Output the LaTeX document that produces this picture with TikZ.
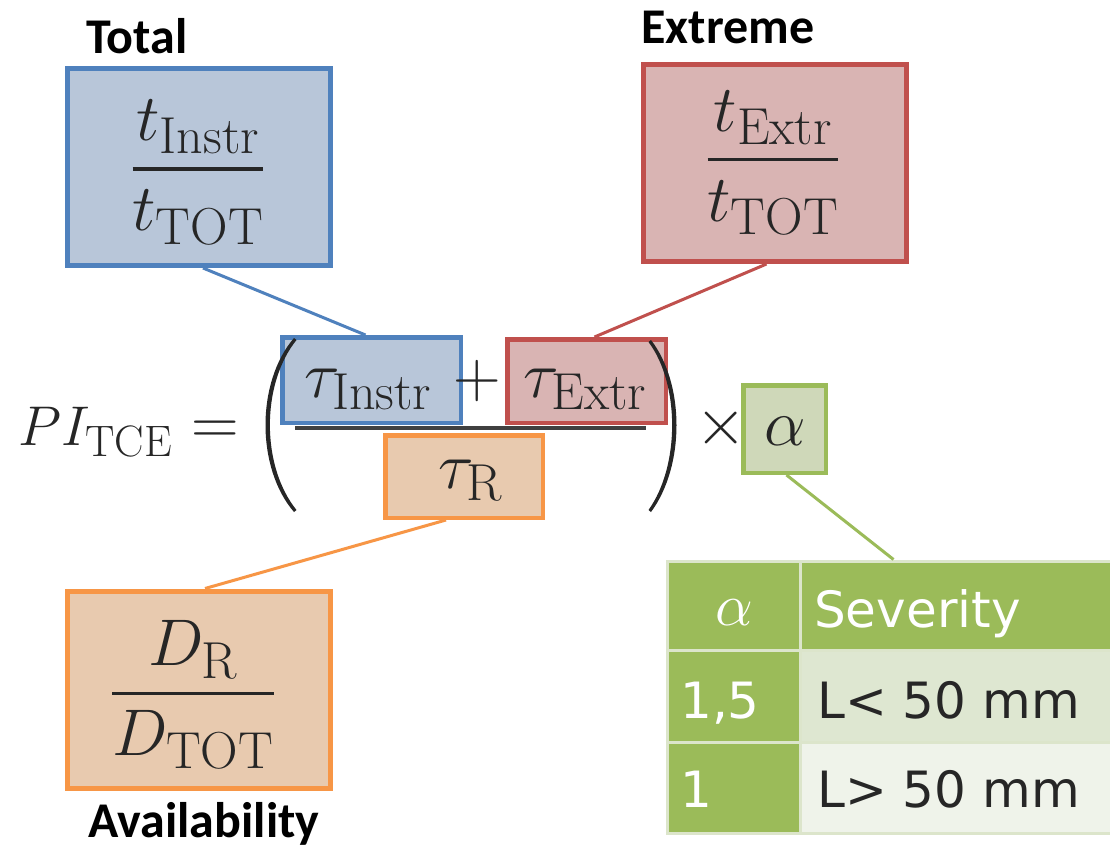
\documentclass[tikz,border=0pt]{standalone}
\usepackage{fix-cm}
\usepackage{fontspec}
\newfontfamily\labelfont{Carlito}
\newfontfamily\tabfont{DejaVu Sans}
\DeclareMathSizes{66}{66}{52}{40}
\DeclareMathSizes{56}{56}{44}{34}
\usetikzlibrary{calc}
\definecolor{blueL}{HTML}{4F81BD}
\definecolor{blueF}{HTML}{B8C6D9}
\definecolor{redL}{HTML}{C0504D}
\definecolor{redF}{HTML}{D9B4B3}
\definecolor{orL}{HTML}{F79646}
\definecolor{orF}{HTML}{E8CAAF}
\definecolor{grL}{HTML}{9BBB59}
\definecolor{grF}{HTML}{CFD8B9}
\definecolor{tabA}{HTML}{DEE7D1}
\definecolor{tabB}{HTML}{EFF3EA}
\definecolor{tabSep}{HTML}{DCE5CB}
\definecolor{txtc}{HTML}{262626}
\definecolor{barc}{HTML}{404040}
\tikzset{
  bigbox/.style={draw, line width=5pt, minimum width=263pt, minimum height=197pt, inner sep=0pt},
  smbox/.style={draw, line width=4.5pt, inner sep=0pt},
  conn/.style={line width=3pt},
  mtxt/.style={inner sep=0pt, text=txtc, font=\fontsize{66}{79}\selectfont},
  lbl/.style={inner sep=0pt, text=black, font=\labelfont\bfseries\fontsize{50}{60}\selectfont},
  cell/.style={inner sep=0pt, draw=tabSep, line width=3pt},
  ttxt/.style={inner sep=0pt, font=\tabfont\fontsize{50}{60}\selectfont}
}
\newcommand\boxfrac[2]{$\displaystyle{#1 \above 3.5pt #2}$}
\begin{document}
\begin{tikzpicture}[x=1pt,y=-1pt]
\useasboundingbox[fill=white] (0,0) rectangle (1110,849);
% fraction bar of the main formula
\draw[line width=4pt, draw=barc] (295,428) -- (646,428);
% big boxes
\node[bigbox, draw=blueL, fill=blueF] (blueBig) at (199,167) {};
\node[bigbox, draw=redL, fill=redF] (redBig) at (774.5,163) {};
\node[bigbox, draw=orL, fill=orF] (orBig) at (199,689.5) {};
% small boxes
\node[smbox, draw=blueL, fill=blueF, minimum width=178.5pt, minimum height=85.5pt] (blueSm) at (371.5,380) {};
\node[smbox, draw=redL, fill=redF, minimum width=158.5pt, minimum height=83.5pt] (redSm) at (586.5,381) {};
\node[smbox, draw=orL, fill=orF, minimum width=157.5pt, minimum height=82.5pt] (orSm) at (464,476.5) {};
\node[smbox, draw=grL, fill=grF, minimum width=82.5pt, minimum height=87.5pt] (grSm) at (784.5,429) {};
% table
\node[cell, fill=grL, minimum width=133pt, minimum height=89pt] (hdrA) at (733.5,605.5) {};
\node[cell, fill=grL, minimum width=313pt, minimum height=89pt] (hdrB) at (956.5,605.5) {};
\node[cell, fill=grL, minimum width=133pt, minimum height=92pt] (r1A) at (733.5,696) {};
\node[cell, fill=tabA, minimum width=313pt, minimum height=92pt] (r1B) at (956.5,696) {};
\node[cell, fill=grL, minimum width=133pt, minimum height=91pt] (r2A) at (733.5,787.5) {};
\node[cell, fill=tabB, minimum width=313pt, minimum height=91pt] (r2B) at (956.5,787.5) {};
% connectors
\draw[conn, draw=blueL] ([xshift=4pt]blueBig.south) -- ([xshift=-6pt]blueSm.north);
\draw[conn, draw=redL] ([xshift=-8pt]redBig.south) -- ([xshift=8pt]redSm.north);
\draw[conn, draw=orL] ([xshift=-18pt]orSm.south) -- ([xshift=6pt]orBig.north);
\draw[conn, draw=grL] ([xshift=2pt]grSm.south) -- ([xshift=-63pt]hdrB.north);
% parentheses
\fill[txtc] (294,338) .. controls (256,382) and (256,468) .. (294,512) -- (296.5,510) .. controls (261,466) and (261,384) .. (296.5,340) -- cycle;
\fill[txtc] (651,340) .. controls (685,384) and (685,466) .. (651,512) -- (648.5,510) .. controls (680,466) and (680,384) .. (648.5,342) -- cycle;
% labels
\node[lbl, anchor=base] (lTotal) at (137,53) {Total};
\node[lbl, anchor=base] (lExtreme) at (728,43) {Extreme};
\node[lbl, anchor=base] (lAvail) at (204,837) {Availability};
% box fractions
\node[mtxt, anchor=base] (fracB) at (198,185.5) {\boxfrac{t_{\mathrm{Instr}}}{t_{\mathrm{TOT}}}};
\node[mtxt, anchor=base] (fracR) at (773,176) {\boxfrac{t_{\mathrm{Extr}}}{t_{\mathrm{TOT}}}};
\node[mtxt, anchor=base] (fracO) at (193,710) {\boxfrac{D_{\mathrm{R}}}{D_{\mathrm{TOT}}}};
% main formula
\node[mtxt, font=\fontsize{56}{67}\selectfont, anchor=base west] (pi) at (18,445) {$PI_{\mathrm{TCE}}$};
\node[mtxt, anchor=base] (eq) at (215,444) {$=$};
\node[mtxt, anchor=base] (tauI) at (368,397) {$\tau_{\mathrm{Instr}}$};
\node[mtxt, anchor=base] (plus) at (477,397) {$+$};
\node[mtxt, anchor=base] (tauE) at (585,397) {$\tau_{\mathrm{Extr}}$};
\node[mtxt, anchor=base] (tauR) at (470,488) {$\tau_{\mathrm{R}}$};
\node[mtxt, anchor=base] (times) at (721,444) {$\times$};
\node[mtxt, anchor=base] (alpha) at (785,445) {$\alpha$};
% table text
\node[ttxt, text=white, font=\fontsize{60}{70}\selectfont, anchor=base] (tA) at (734,625) {$\alpha$};
\node[ttxt, text=white, anchor=base west] (tSev) at (814,627) {Severity};
\node[ttxt, text=white, anchor=base west] (t15) at (680,718) {1,5};
\node[ttxt, text=txtc, anchor=base west] (tL1) at (817,718) {L< 50 mm};
\node[ttxt, text=white, anchor=base west] (t1) at (680,807) {1};
\node[ttxt, text=txtc, anchor=base west] (tL2) at (817,807) {L> 50 mm};
\end{tikzpicture}
\end{document}
